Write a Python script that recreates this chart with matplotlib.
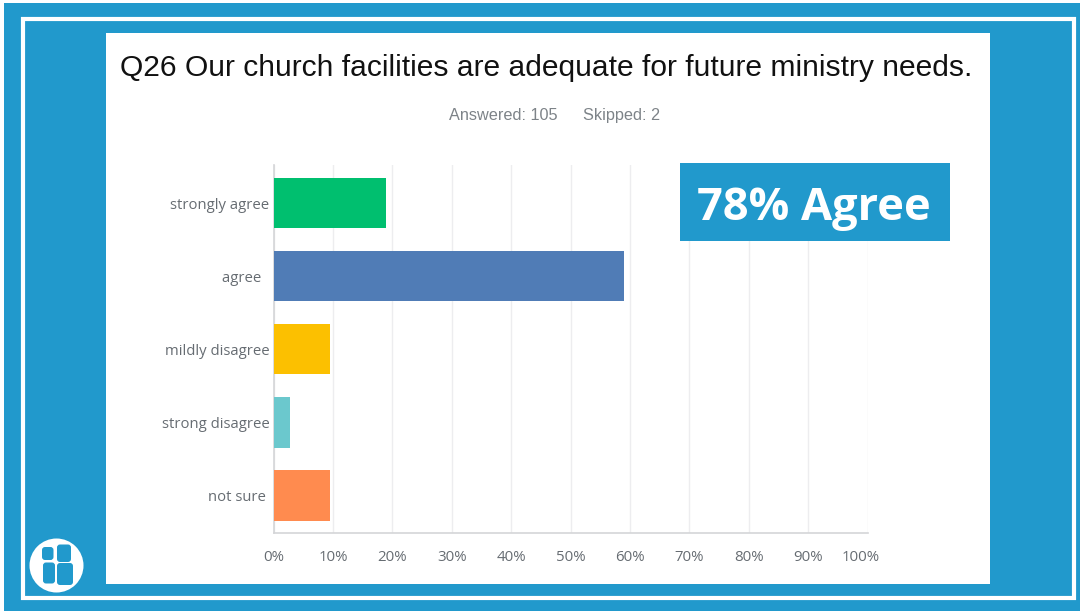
import matplotlib
matplotlib.use("Agg")
import matplotlib.pyplot as plt
from matplotlib.patches import Rectangle, Circle, FancyBboxPatch
from matplotlib.transforms import ScaledTranslation

W, H = 1080, 611

# Survey data
categories = ["strongly agree", "agree  ", "mildly disagree", "strong disagree", "not sure "]
values = [18.9, 59.0, 9.5, 2.8, 9.5]
bar_colors = ["#00bf6f", "#507cb6", "#fcc000", "#6bc8cd", "#ff8b4f"]
ticks = list(range(0, 101, 10))
tick_labels = [f"{t}%" for t in ticks]

BLUE = "#2199cc"
GREY = "#666c72"

plt.rcParams["font.family"] = ["Open Sans", "DejaVu Sans"]

fig = plt.figure(figsize=(W / 100, H / 100), dpi=100, facecolor="white")


def px_rect(x0, y0, x1, y1, **kw):
    # rectangle in picture pixels, y going down
    fig.add_artist(Rectangle((x0 / W, 1 - y1 / H), (x1 - x0) / W, (y1 - y0) / H,
                             transform=fig.transFigure, **kw))


def px_text(x, y, s, **kw):
    fig.text(x / W, 1 - y / H, s, **kw)


# Background and frame
px_rect(4, 3, W, H, facecolor=BLUE, edgecolor="none", zorder=0)
px_rect(23, 19, 1073.5, 598, facecolor="none", edgecolor="white", linewidth=3.0, zorder=1)
px_rect(106, 33, 990, 584, facecolor="white", edgecolor="none", zorder=1)

# Chart
ax = fig.add_axes([273.5 / W, 1 - 533 / H, (867.5 - 273.5) / W, (533 - 165) / H], zorder=2)
ax.set_facecolor("none")
ypos = list(range(len(categories)))
ax.barh(ypos, values, height=0.69, color=bar_colors, zorder=3)
ax.set_xlim(0, 100)
ax.set_ylim(4.514, -0.52)
ax.set_xticks(ticks)
ax.set_xticklabels(tick_labels, fontsize=10.8, color=GREY)
ax.set_yticks(ypos)
ax.set_yticklabels(categories, fontsize=10.7, color=GREY)
ax.tick_params(axis="both", length=0)
ax.tick_params(axis="x", pad=12)
ax.tick_params(axis="y", pad=3)
ax.grid(axis="x", color="#ededef", linewidth=1, zorder=0)
ax.set_axisbelow(True)
for side in ["top", "right"]:
    ax.spines[side].set_visible(False)
for side in ["left", "bottom"]:
    ax.spines[side].set_color("#d4d5d8")
    ax.spines[side].set_linewidth(1.2)

# the 100% label sits left of its gridline in the original
last = ax.get_xticklabels()[-1]
last.set_transform(last.get_transform() + ScaledTranslation(-7 / 100, 0, fig.dpi_scale_trans))

# Title
px_text(546, 68, "Q26 Our church facilities are adequate for future ministry needs.",
        fontsize=21.6, color="#111111", ha="center", va="center",
        family=["Liberation Sans", "DejaVu Sans"], zorder=5)
px_text(449, 120, "Answered: 105", fontsize=11.7, color="#7d8388", ha="left", va="baseline",
        family=["Liberation Sans", "DejaVu Sans"], zorder=5)
px_text(583, 120, "Skipped: 2", fontsize=11.7, color="#7d8388", ha="left", va="baseline",
        family=["Liberation Sans", "DejaVu Sans"], zorder=5)

# Callout
px_rect(680, 163, 950, 241, facecolor=BLUE, edgecolor="none", zorder=6)
px_text(814, 220, "78% Agree", fontsize=32.5, fontweight="bold", color="white",
        ha="center", va="baseline", zorder=7)

# Logo
ov = fig.add_axes([0, 0, 1, 1], zorder=8)
ov.set_xlim(0, W)
ov.set_ylim(H, 0)
ov.axis("off")
ov.add_patch(Circle((56.5, 565.5), 27, facecolor="white", edgecolor="none"))
for x0, y0, w, h in [(42, 547, 11.5, 13), (57, 544.5, 14, 17.5), (43, 562.5, 12, 21), (57, 563, 16, 22)]:
    ov.add_patch(FancyBboxPatch((x0 + 3, y0 + 3), w - 6, h - 6, boxstyle="round,pad=3",
                                facecolor=BLUE, edgecolor="none"))

fig.savefig("out.png", dpi=100)
